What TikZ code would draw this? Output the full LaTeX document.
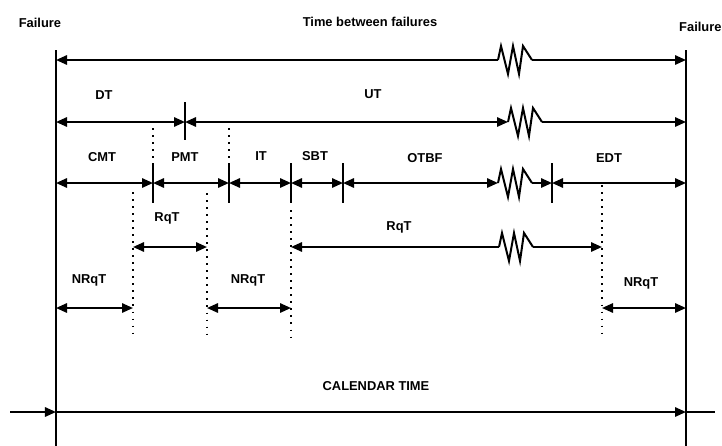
\documentclass[tikz,border=0pt]{standalone}
\usepackage{fontspec}
\setmainfont{Liberation Sans}
\usetikzlibrary{arrows.meta}

\tikzset{
    lbl/.style={font=\fontsize{11}{13}\selectfont\bfseries, inner sep=0pt},
    bar/.style={line width=1.7pt},
    dots/.style={line width=1.5pt, dash pattern=on 1.5pt off 4.5pt},
    zigzag/.pic={\draw[bar] (0,0) -- (3,-14) -- (10,14) -- (15,-14) -- (21,14) -- (25,-14) -- (34,0);}
}

\begin{document}
\begin{tikzpicture}[x=0.03cm, y=-0.03cm, >={Triangle[length=3.3mm,width=2.8mm]}]
    \useasboundingbox (0,0) rectangle (722,446);

    % Define the failure lines
    \coordinate (LT) at (56,50);
    \coordinate (LB) at (56,446);
    \coordinate (RT) at (686,50);
    \coordinate (RB) at (686,446);

    % Define the points of the rows
    \coordinate (A1) at (56,60);   \coordinate (Z1) at (498,60);  \coordinate (Z1e) at (532,60);  \coordinate (B1) at (686,60);
    \coordinate (A2) at (56,122);  \coordinate (T2) at (185,122); \coordinate (Z2) at (508,122);  \coordinate (Z2e) at (542,122); \coordinate (B2) at (686,122);
    \coordinate (A3) at (56,183);  \coordinate (C3) at (153,183); \coordinate (P3) at (229,183);  \coordinate (I3) at (291,183);
    \coordinate (S3) at (343,183); \coordinate (Z3) at (498,183); \coordinate (Z3e) at (532,183); \coordinate (E3) at (552,183); \coordinate (B3) at (686,183);
    \coordinate (Q1a) at (133,247); \coordinate (Q1b) at (207,247); \coordinate (Q2a) at (291,247);
    \coordinate (Z4) at (499,247);  \coordinate (Z4e) at (533,247); \coordinate (Q2b) at (602,247);
    \coordinate (N1a) at (56,308);  \coordinate (N1b) at (133,308); \coordinate (N2a) at (207,308);
    \coordinate (N2b) at (291,308); \coordinate (N3a) at (602,308); \coordinate (N3b) at (686,308);
    \coordinate (K0) at (10,412);   \coordinate (K1) at (56,412);   \coordinate (K2) at (686,412);  \coordinate (K3) at (715,412);

    % Draw the failure lines
    \draw[bar] (LT) -- (LB);
    \draw[bar] (RT) -- (RB);

    % Draw the time between failures
    \draw[bar,<-] (A1) -- (Z1);
    \pic at (Z1) {zigzag};
    \draw[bar,->] (Z1e) -- (B1);

    % Draw DT and UT
    \draw[bar,<->] (A2) -- (T2);
    \draw[bar,<->] (T2) -- (Z2);
    \pic at (Z2) {zigzag};
    \draw[bar,->] (Z2e) -- (B2);
    \draw[bar] (T2) ++(0,-20) -- ++(0,38);

    % Draw the split of the times
    \draw[bar,<->] (A3) -- (C3);
    \draw[bar,<->] (C3) -- (P3);
    \draw[bar,<->] (P3) -- (I3);
    \draw[bar,<->] (I3) -- (S3);
    \draw[bar,<->] (S3) -- (Z3);
    \pic at (Z3) {zigzag};
    \draw[bar,->] (Z3e) -- (E3);
    \draw[bar,<->] (E3) -- (B3);
    \foreach \t in {C3,P3,I3,S3,E3}
        \draw[bar] (\t) ++(0,-20) -- ++(0,40);

    % Draw the dotted lines
    \draw[dots] (153,128) -- (153,158);
    \draw[dots] (229,128) -- (229,158);
    \draw[dots] (133,192) -- (133,335);
    \draw[dots] (207,193) -- (207,335);
    \draw[dots] (291,210) -- (291,337);
    \draw[dots] (602,185) -- (602,337);

    % Draw RqT and NRqT
    \draw[bar,<->] (Q1a) -- (Q1b);
    \draw[bar,<-] (Q2a) -- (Z4);
    \pic at (Z4) {zigzag};
    \draw[bar,->] (Z4e) -- (Q2b);
    \draw[bar,<->] (N1a) -- (N1b);
    \draw[bar,<->] (N2a) -- (N2b);
    \draw[bar,<->] (N3a) -- (N3b);

    % Draw the calendar time
    \draw[bar,->] (K0) -- (K1);
    \draw[bar,->] (K1) -- (K2);
    \draw[bar] (K2) -- (K3);

    % Place the labels
    \node[lbl] (fl) at (40,22.5) {Failure};
    \node[lbl] (tbf) at (370,22) {Time between failures};
    \node[lbl,anchor=west] (fr) at (679,27) {Failure};
    \node[lbl] (dt) at (104,95) {DT};
    \node[lbl] (ut) at (373,94) {UT};
    \node[lbl] (cmt) at (102,157) {CMT};
    \node[lbl] (pmt) at (185,157) {PMT};
    \node[lbl] (it) at (261,156) {IT};
    \node[lbl] (sbt) at (315,156) {SBT};
    \node[lbl] (otbf) at (425,158) {OTBF};
    \node[lbl] (edt) at (609,158) {EDT};
    \node[lbl] (rq1) at (167,218) {RqT};
    \node[lbl] (rq2) at (399,227) {RqT};
    \node[lbl] (nrq1) at (89,280) {NRqT};
    \node[lbl] (nrq2) at (248,280) {NRqT};
    \node[lbl] (nrq3) at (641,283) {NRqT};
    \node[lbl] (cal) at (376,386) {CALENDAR TIME};

\end{tikzpicture}
\end{document}
